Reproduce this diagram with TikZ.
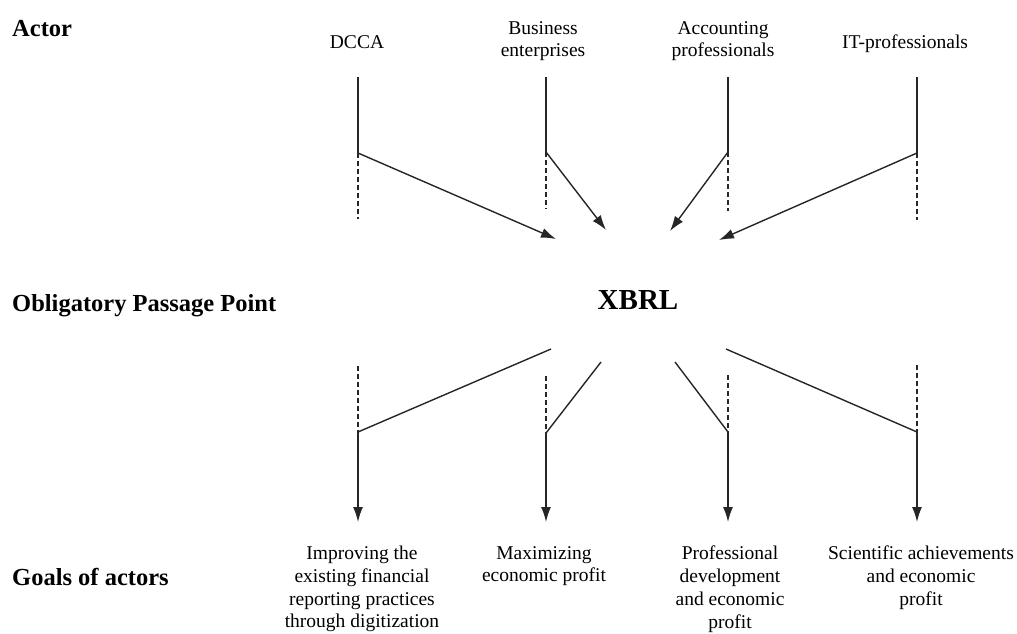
\documentclass[tikz,border=0pt]{standalone}
\usepackage{fontspec}
\setmainfont{Liberation Serif}
\usetikzlibrary{arrows.meta}
\begin{document}
\begin{tikzpicture}[x=1pt,y=-1pt,
  line/.style={line width=1.4pt, black!85},
  dashline/.style={line width=1.1pt, black!85, dash pattern=on 5pt off 3pt},
  arr/.style={line, -{Latex[length=15pt,width=10pt]}},
  lab/.style={font=\fontsize{24.5}{28}\selectfont\bfseries, anchor=base west, inner sep=0pt},
  txt/.style={font=\fontsize{19.5}{22.7}\selectfont, align=center, inner sep=0pt},
]
\useasboundingbox (0,0) rectangle (1017,633);

% row labels
\node[lab] (lA) at (12,36) {Actor};
\node[lab] (lO) at (12,311) {Obligatory Passage Point};
\node[lab] (lG) at (12,585) {Goals of actors};

% obligatory passage point
\node[font=\fontsize{29}{34}\selectfont\bfseries, anchor=base, inner sep=0pt] (x) at (638,309) {XBRL};

% actors
\node[txt, anchor=base]  (a1) at (357,48) {DCCA};
\node[txt, anchor=north] (a2) at (543,21) {Business\\enterprises};
\node[txt, anchor=north] (a3) at (723,21) {Accounting\\professionals};
\node[txt, anchor=base]  (a4) at (905,48) {IT-professionals};

% goals
\node[txt, anchor=north] (g1) at (362,546) {Improving the\\existing financial\\reporting practices\\through digitization};
\node[txt, anchor=north] (g2) at (544,546) {Maximizing\\economic profit};
\node[txt, anchor=north] (g3) at (730,546) {Professional\\development\\and economic\\profit};
\node[txt, anchor=north] (g4) at (921,546) {Scientific achievements\\and economic\\profit};

% upper connector points
\coordinate (t1) at (358,77);  \coordinate (j1) at (358,153); \coordinate (d1) at (358,219); \coordinate (e1) at (556,239);
\coordinate (t2) at (546,77);  \coordinate (j2) at (546,152); \coordinate (d2) at (546,209); \coordinate (e2) at (606,230);
\coordinate (t3) at (728,77);  \coordinate (j3) at (728,152); \coordinate (d3) at (728,211); \coordinate (e3) at (670,231);
\coordinate (t4) at (917,77);  \coordinate (j4) at (917,153); \coordinate (d4) at (917,220); \coordinate (e4) at (719,240);

\foreach \i in {1,2,3,4}{
  \draw[line] (t\i) -- (j\i);
  \draw[dashline] (j\i) -- (d\i);
  \draw[arr] (j\i) -- (e\i);
}

% lower connector points
\coordinate (s1) at (551,349); \coordinate (k1) at (358,432); \coordinate (u1) at (358,366); \coordinate (b1) at (358,522);
\coordinate (s2) at (601,362); \coordinate (k2) at (546,433); \coordinate (u2) at (546,376); \coordinate (b2) at (546,522);
\coordinate (s3) at (675,362); \coordinate (k3) at (728,432); \coordinate (u3) at (728,375); \coordinate (b3) at (728,522);
\coordinate (s4) at (726,349); \coordinate (k4) at (917,432); \coordinate (u4) at (917,365); \coordinate (b4) at (917,522);

\foreach \i in {1,2,3,4}{
  \draw[line] (s\i) -- (k\i);
  \draw[dashline] (u\i) -- (k\i);
  \draw[arr] (k\i) -- (b\i);
}
\end{tikzpicture}
\end{document}
